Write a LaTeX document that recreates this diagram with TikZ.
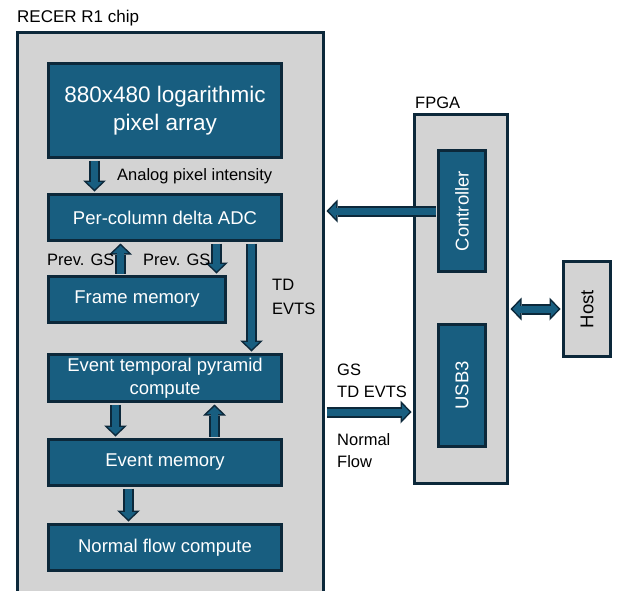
\documentclass[tikz,border=0pt]{standalone}
\usepackage{fontspec}
\setmainfont{Liberation Sans}
\usetikzlibrary{positioning, arrows.meta, calc}
\definecolor{ChipGray}{RGB}{211,211,211}
\definecolor{BlockBlue}{RGB}{24,94,128}
\definecolor{EdgeNavy}{RGB}{12,40,58}

\tikzset{
  frame/.style={draw=EdgeNavy, line width=3pt, fill=ChipGray, inner sep=0pt},
  block/.style={draw=EdgeNavy, line width=3pt, fill=BlockBlue, text=white,
    font=\fontsize{18.5}{23}\selectfont, align=center, inner sep=0pt},
  lbl/.style={font=\fontsize{16.5}{22}\selectfont, align=left, inner sep=0pt, anchor=base west},
  flow/.style={draw=EdgeNavy, line width=11pt, shorten <=1.5pt, shorten >=1.5pt,
    -{Triangle[length=11pt, width=23pt, line width=0pt]},
    postaction={draw=BlockBlue, line width=7pt, shorten <=1.5pt, shorten >=3.6pt,
      -{Triangle[length=7.4pt, width=15.5pt, line width=0pt]}}},
  twoway/.style={draw=EdgeNavy, line width=11pt, shorten <=1.5pt, shorten >=1.5pt,
    {Triangle[length=11pt, width=23pt, line width=0pt]}-{Triangle[length=11pt, width=23pt, line width=0pt]},
    postaction={draw=BlockBlue, line width=7pt, shorten <=3.6pt, shorten >=3.6pt,
      {Triangle[length=7.4pt, width=15.5pt, line width=0pt]}-{Triangle[length=7.4pt, width=15.5pt, line width=0pt]}}},
}

\begin{document}
\begin{tikzpicture}[x=1pt, y=-1pt]
  \clip (0,0) rectangle (617,590);
  \fill[white] (0,0) rectangle (617,590);

  % Chip and its blocks
  \node[frame, minimum width=306pt, minimum height=566pt] (chip) at (170.5,315.5) {};
  \node[lbl, font=\fontsize{17}{20}\selectfont] (chiptitle) at (17,22) {RECER R1 chip};

  \node[block, font=\fontsize{22.5}{28}\selectfont, minimum width=233pt, minimum height=94pt] (pixarray) at (165,110.5) {880x480 logarithmic\\pixel array};
  \node[block, minimum width=233pt, minimum height=46pt] (adc) at (165,217.5) {Per-column delta ADC};
  \node[block, minimum width=177pt, minimum height=46pt] (framemem) at (137,299.5) {Frame memory};
  \node[block, minimum width=233pt, minimum height=47pt] (pyramid) at (165,378) {Event temporal pyramid\\compute};
  \node[block, minimum width=233pt, minimum height=46pt] (eventmem) at (165,462.5) {Event memory};
  \node[block, minimum width=233pt, minimum height=46pt] (normalflow) at (165,547.5) {Normal flow compute};

  % FPGA and host
  \node[frame, minimum width=93pt, minimum height=369pt] (fpga) at (461,299) {};
  \node[lbl] (fpgatitle) at (415,108) {FPGA};
  \node[block, rotate=90, minimum width=121pt, minimum height=47pt] (ctrl) at (462,211) {Controller};
  \node[block, rotate=90, minimum width=122pt, minimum height=47pt] (usb) at (462,385.5) {USB3};
  \node[frame, rotate=90, font=\fontsize{18.5}{23}\selectfont, minimum width=95pt, minimum height=47pt] (host) at (587,309) {Host};

  % Data paths inside the chip
  \draw[flow] ([xshift=47.5pt]pixarray.south west) -- ([xshift=47.5pt]adc.north west);
  \draw[flow] ([xshift=73.5pt]framemem.north west) -- ([xshift=73.5pt]adc.south west);
  \draw[flow] ([xshift=169.5pt]adc.south west) -- ([xshift=169.5pt]framemem.north west);
  \draw[flow] ([xshift=204.5pt]adc.south west) -- ([xshift=204.5pt]pyramid.north west);
  \draw[flow] ([xshift=68.5pt]pyramid.south west) -- ([xshift=68.5pt]eventmem.north west);
  \draw[flow] ([xshift=167.5pt]eventmem.north west) -- ([xshift=167.5pt]pyramid.south west);
  \draw[flow] ([xshift=81.5pt]eventmem.south west) -- ([xshift=81.5pt]normalflow.north west);

  % Links between chip, FPGA and host
  \draw[flow] (ctrl.north) -- (chip.east |- ctrl.north);
  \draw[flow] ([yshift=-96.5pt]chip.east) -- ([yshift=-96.5pt]chip.east -| fpga.west);
  \draw[twoway] (fpga.east |- host.north) -- (host.north);

  % Labels
  \node[lbl] (analoglbl) at (117,180) {Analog pixel intensity};
  \node[lbl] (prevup) at (47,265) {Prev. GS};
  \node[lbl] (prevdown) at (143,265) {Prev. GS};
  \node[lbl, font=\fontsize{16.5}{24}\selectfont] (tdlbl) at (272,314) {TD\\EVTS};
  \node[lbl] (gslbl) at (337,397) {GS\\TD EVTS};
  \node[lbl] (nflbl) at (337,467) {Normal\\Flow};
\end{tikzpicture}
\end{document}
